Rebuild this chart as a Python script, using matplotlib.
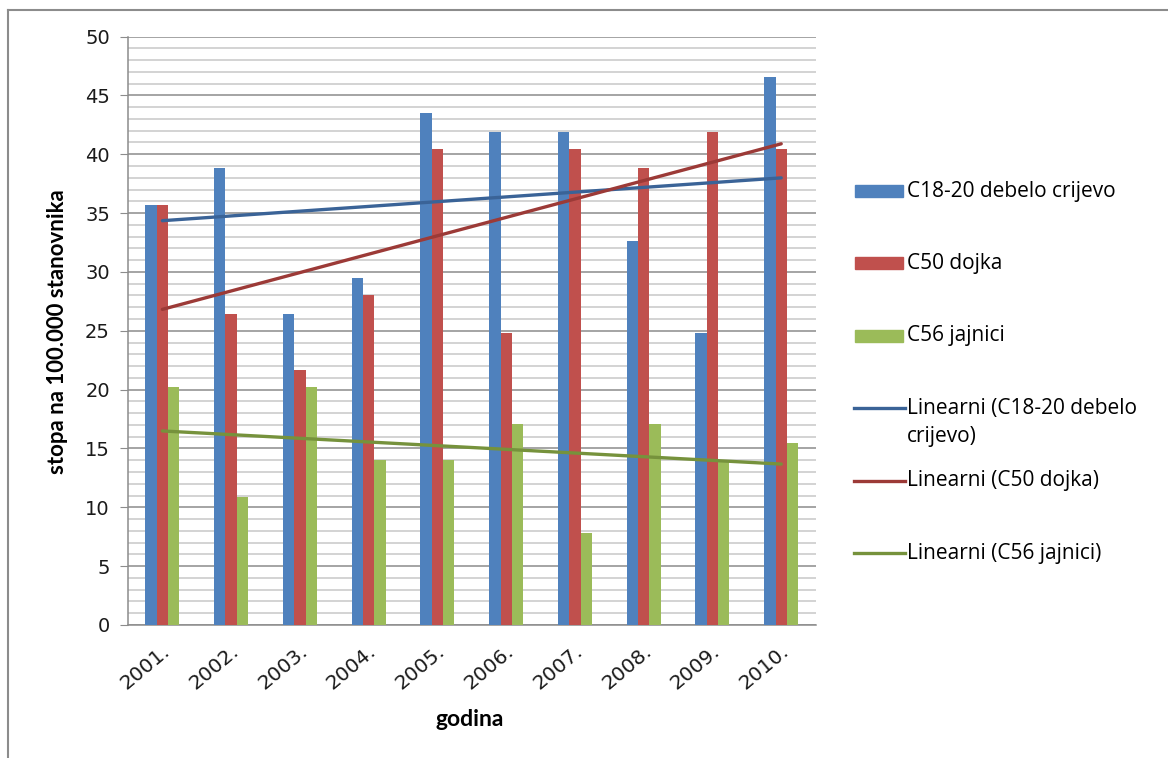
import matplotlib
matplotlib.use("Agg")
import matplotlib.pyplot as plt
import numpy as np
from matplotlib.patches import Rectangle
from matplotlib.lines import Line2D

years = ["2001.", "2002.", "2003.", "2004.", "2005.", "2006.", "2007.", "2008.", "2009.", "2010."]
debelo_crijevo = [35.7, 38.8, 26.4, 29.5, 43.5, 41.9, 41.9, 32.6, 24.8, 46.6]
dojka = [35.7, 26.4, 21.7, 28.0, 40.4, 24.8, 40.4, 38.8, 41.9, 40.4]
jajnici = [20.2, 10.9, 20.2, 14.0, 14.0, 17.1, 7.8, 17.1, 14.0, 15.5]

series_labels = ["C18-20 debelo crijevo", "C50 dojka", "C56 jajnici"]
trend_labels = ["Linearni (C18-20 debelo\ncrijevo)", "Linearni (C50 dojka)", "Linearni (C56 jajnici)"]
bar_colors = ["#4F81BD", "#C0504D", "#9BBB59"]
trend_colors = ["#3A6397", "#9C3A37", "#76923C"]
y_ticks = [0, 5, 10, 15, 20, 25, 30, 35, 40, 45, 50]

W, H = 1168, 758
fig = plt.figure(figsize=(W / 100, H / 100), dpi=100)

def fx(px):
    return px / W

def fy(py):
    return 1 - py / H

# plot area in pixel coordinates
left, right, top, bottom = 128, 815.6, 36.5, 625
ax = fig.add_axes([fx(left), fy(bottom), fx(right - left), (bottom - top) / H])

x = np.arange(1, len(years) + 1)
bw = 0.165
all_series = [debelo_crijevo, dojka, jajnici]
for i, (vals, col) in enumerate(zip(all_series, bar_colors)):
    ax.bar(x + (i - 1) * bw, vals, width=bw, color=col, zorder=3, linewidth=0)

# linear trend lines
for vals, col in zip(all_series, trend_colors):
    k, n = np.polyfit(x, vals, 1)
    ax.plot([x[0], x[-1]], [k * x[0] + n, k * x[-1] + n], color=col, lw=2.4, zorder=4,
            solid_capstyle="round")

ax.set_xlim(0.5, len(years) + 0.5)
ax.set_ylim(0, 50)
ax.set_yticks(y_ticks)
ax.set_yticks(np.arange(0, 51, 1), minor=True)
ax.grid(axis="y", which="major", color="#8C8C8C", lw=1.1, zorder=0)
ax.grid(axis="y", which="minor", color="#C8C8C8", lw=1.1, zorder=0)
ax.set_xticks(x)
ax.set_xticklabels([])

for s in ["top", "right"]:
    ax.spines[s].set_visible(False)
ax.spines["left"].set_color("#8C8C8C")
ax.spines["bottom"].set_color("#8C8C8C")
ax.spines["left"].set_linewidth(1.1)
ax.spines["bottom"].set_linewidth(1.1)
ax.tick_params(axis="y", which="major", length=6, color="#8C8C8C", labelsize=14,
               labelcolor="#1A1A1A", pad=7)
ax.tick_params(axis="y", which="minor", length=0)
ax.tick_params(axis="x", length=0)
for lab in ax.get_yticklabels():
    lab.set_family("DejaVu Sans")

# rotated year labels
for xi, lab in zip(x, years):
    ax.annotate(lab, xy=(xi, 0), xycoords="data", xytext=(-1, -16), textcoords="offset pixels",
                rotation=40, ha="right", va="top", rotation_mode="anchor",
                fontsize=14.5, family="DejaVu Sans", color="#1A1A1A")

fig.text(fx(58), fy(332), "stopa na 100.000 stanovnika", rotation=90, ha="center", va="center",
         fontsize=16, fontweight="bold", family="Lato")
fig.text(fx(470), fy(720), "godina", ha="center", va="center",
         fontsize=16.5, fontweight="bold", family="Lato")

# legend drawn in figure pixels
entries = [("bar", series_labels[0], bar_colors[0]),
           ("bar", series_labels[1], bar_colors[1]),
           ("bar", series_labels[2], bar_colors[2]),
           ("line", trend_labels[0], trend_colors[0]),
           ("line", trend_labels[1], trend_colors[1]),
           ("line", trend_labels[2], trend_colors[2])]
y0, step = 191, 72.4
for i, (kind, label, col) in enumerate(entries):
    yc = y0 + i * step
    if kind == "bar":
        fig.patches.append(Rectangle((fx(855), fy(yc + 6)), fx(48), 12 / H, color=col,
                                     transform=fig.transFigure, figure=fig))
    else:
        fig.lines.append(Line2D([fx(854), fx(905)], [fy(yc), fy(yc)], color=col, lw=2.4,
                                transform=fig.transFigure, figure=fig))
    for j, line in enumerate(label.split("\n")):
        fig.text(fx(907), fy(yc + j * 28), line, ha="left", va="center", fontsize=15,
                 family="Open Sans")

# outer frame (top and left edges)
fig.lines.append(Line2D([fx(8), fx(1168)], [fy(10), fy(10)], color="#8C8C8C", lw=1.5,
                        transform=fig.transFigure, figure=fig))
fig.lines.append(Line2D([fx(8), fx(8)], [fy(10), fy(758)], color="#8C8C8C", lw=1.5,
                        transform=fig.transFigure, figure=fig))

fig.savefig("out.png", dpi=100)
